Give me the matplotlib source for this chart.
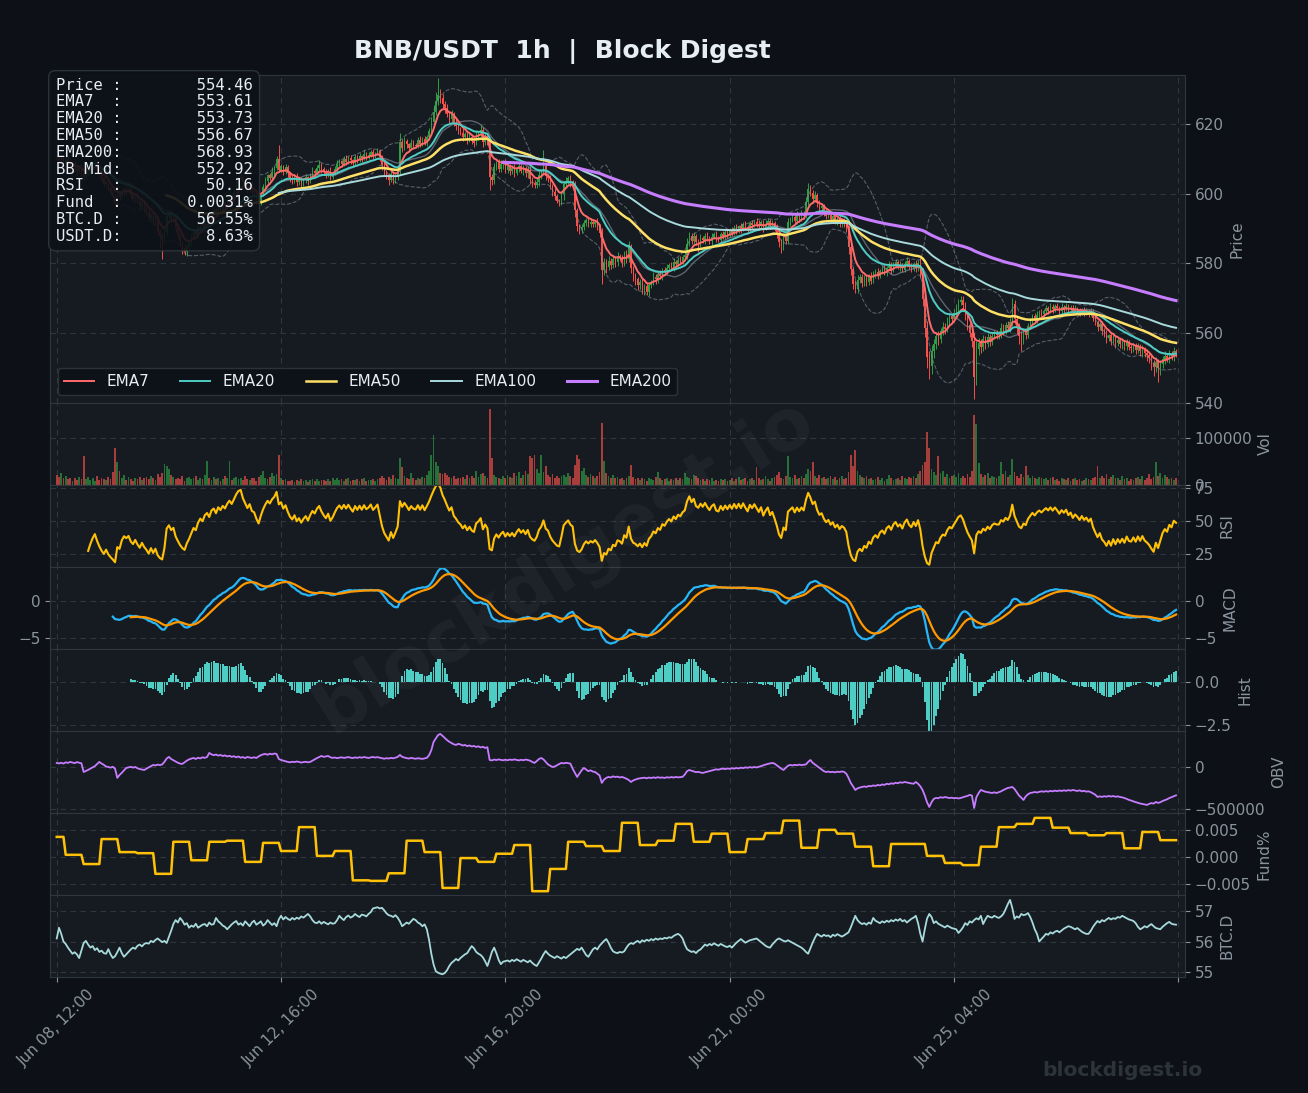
import numpy as np
import pandas as pd
import matplotlib
matplotlib.use('Agg')
import matplotlib.pyplot as plt

# ---- data (hourly, starting Jun 08 12:00) ----
start_time = '2025-06-08 12:00'
first_open = 610.6

close = [
    610.2, 609.4, 610.0, 608.8, 609.5, 608.2, 607.6, 608.4, 607.1, 606.5, 607.3, 606.0, 604.8, 605.4, 606.6, 607.5, 608.3, 608.9, 607.2, 605.6,
    604.1, 602.8, 603.4, 601.5, 600.2, 599.0, 597.4, 599.8, 599.1, 600.6, 601.4, 600.8, 601.2, 599.5, 598.6, 599.3, 597.8, 596.6, 597.4, 595.9,
    594.8, 593.1, 594.0, 591.9, 592.6, 589.4, 587.8, 586.9, 588.9, 593.6, 594.6, 592.9, 593.5, 590.2, 588.1, 586.0, 584.3, 583.2, 584.8, 585.9,
    587.4, 588.9, 588.1, 590.3, 591.6, 590.8, 592.7, 593.5, 592.4, 594.6, 595.3, 594.1, 596.2, 595.5, 597.0, 596.4, 598.1, 599.3, 598.6, 600.4,
    602.6, 604.3, 604.9, 603.2, 602.1, 601.0, 602.4, 600.8, 600.5, 598.9, 597.6, 599.8, 601.9, 603.7, 605.2, 604.6, 606.3, 607.4, 609.8, 606.9,
    607.8, 606.2, 607.5, 605.8, 604.4, 603.6, 604.9, 603.2, 604.1, 602.8, 603.9, 604.7, 603.5, 605.1, 606.4, 605.8, 607.3, 608.2, 607.0, 606.1,
    605.4, 606.6, 604.9, 605.8, 607.2, 608.5, 609.3, 608.6, 609.8, 609.1, 610.2, 609.5, 608.9, 610.4, 609.7, 610.8, 610.1, 611.3, 610.6, 611.0,
    611.8, 610.9, 611.5, 612.2, 610.4, 608.1, 606.3, 605.2, 604.0, 605.6, 603.8, 604.9, 606.2, 614.8, 613.2, 615.0, 614.1, 613.0, 614.6, 613.9,
    613.7, 615.3, 614.2, 615.8, 614.6, 616.1, 617.9, 620.6, 623.5, 626.6, 628.2, 627.4, 625.6, 624.4, 622.9, 621.5, 622.8, 620.3, 619.4, 618.2,
    617.5, 616.2, 617.0, 615.4, 616.3, 615.1, 614.6, 616.8, 617.3, 618.2, 614.9, 616.2, 615.0, 604.8, 603.9, 607.5, 608.9, 607.2, 608.4, 609.1,
    606.8, 607.9, 606.5, 607.4, 605.9, 607.1, 608.0, 606.6, 607.3, 605.8, 606.9, 604.2, 603.1, 602.5, 603.4, 605.2, 606.0, 607.8, 605.1, 604.4,
    602.1, 600.4, 599.2, 598.0, 597.6, 599.8, 602.9, 603.7, 604.4, 603.1, 602.5, 595.2, 590.8, 589.6, 590.3, 591.7, 592.5, 591.4, 592.0, 591.3,
    591.9, 590.6, 588.7, 578.2, 580.4, 579.1, 580.8, 579.6, 581.2, 580.3, 582.0, 581.5, 580.2, 582.6, 581.4, 584.9, 578.8, 576.2, 575.4, 573.8,
    574.6, 572.3, 573.5, 571.8, 573.9, 574.7, 576.2, 575.4, 577.0, 576.3, 578.1, 577.5, 578.8, 579.6, 578.9, 580.4, 579.7, 581.0, 580.6, 581.8,
    582.4, 585.6, 587.8, 586.5, 587.9, 586.2, 585.8, 587.3, 586.6, 588.0, 587.1, 586.4, 587.7, 588.3, 587.0, 586.8, 588.4, 587.6, 588.9, 588.2,
    589.4, 588.7, 590.1, 589.3, 590.6, 589.8, 591.2, 590.4, 589.7, 591.5, 590.9, 592.0, 591.3, 590.6, 591.8, 590.2, 591.4, 592.3, 590.8, 591.6,
    590.3, 588.6, 586.1, 584.9, 587.2, 586.4, 591.8, 592.6, 593.4, 592.1, 593.8, 592.9, 594.2, 593.5, 597.6, 601.4, 600.2, 598.5, 599.6, 597.3,
    595.8, 596.4, 594.7, 593.6, 594.3, 592.8, 593.5, 591.9, 592.6, 591.2, 592.0, 591.5, 590.2, 584.6, 578.3, 574.1, 572.6, 575.2, 576.0, 574.3,
    575.8, 574.6, 576.3, 575.1, 576.9, 577.6, 576.4, 577.9, 578.5, 577.2, 578.8, 579.4, 578.1, 579.6, 580.3, 578.9, 579.5, 578.2, 579.8, 580.6,
    579.1, 578.4, 579.7, 578.6, 580.1, 577.3, 569.8, 561.5, 553.2, 550.6, 554.8, 556.9, 559.2, 558.3, 560.6, 561.9, 561.2, 563.4, 564.8, 564.1,
    565.7, 567.2, 568.9, 569.6, 568.1, 565.3, 562.4, 560.1, 557.8, 547.5, 555.4, 557.3, 556.1, 558.2, 557.0, 558.9, 557.5, 559.3, 560.1, 559.6,
    559.6, 561.4, 560.8, 562.3, 561.5, 563.2, 568.4, 564.1, 561.8, 559.2, 558.4, 560.3, 559.6, 562.1, 563.5, 564.8, 563.9, 565.2, 566.0, 565.4,
    566.3, 567.1, 566.5, 567.6, 566.8, 567.9, 567.2, 566.4, 567.5, 566.9, 567.8, 566.6, 567.3, 566.1, 567.0, 566.5, 565.8, 566.7, 565.9, 566.4,
    565.6, 566.2, 564.4, 563.1, 561.8, 562.5, 560.7, 559.9, 558.6, 559.4, 557.8, 558.9, 557.2, 558.1, 556.9, 557.6, 556.3, 557.4, 556.0, 555.8,
    556.5, 555.2, 556.1, 554.8, 555.6, 554.3, 553.7, 552.9, 551.6, 550.4, 551.8, 549.9, 551.2, 552.6, 553.4, 552.7, 554.1, 553.5, 554.9, 554.46,
]

wick_up = [
    0.8, 0.6, 1.1, 0.5, 0.9, 1.2, 0.7, 0.4, 1.0, 0.6, 0.8, 1.3, 0.5, 0.7, 0.9, 0.4, 1.1, 0.6, 0.8, 0.5,
    0.7, 1.0, 0.4, 0.9, 0.6, 1.2, 0.8, 0.5, 1.0, 0.7, 0.4, 0.9, 1.1, 0.6, 0.8, 0.5, 1.0, 0.7, 0.4, 0.9,
    0.6, 1.1, 0.5, 0.8, 1.2, 0.7, 0.4, 1.0, 1.4, 0.9, 0.6, 0.8, 1.1, 0.5, 0.7, 1.0, 0.4, 0.9, 0.6, 0.8,
    1.0, 0.5, 0.8, 1.2, 0.6, 0.9, 0.4, 1.1, 0.7, 0.5, 1.0, 0.8, 0.6, 1.2, 0.4, 0.9, 0.7, 1.1, 0.5, 0.8,
    1.2, 0.7, 0.9, 0.5, 1.0, 0.6, 0.8, 1.3, 0.4, 0.7, 1.0, 0.6, 0.9, 1.1, 0.5, 0.8, 1.2, 0.6, 0.9, 4.2,
    0.8, 0.5, 1.0, 0.7, 0.4, 0.9, 0.6, 1.1, 0.5, 0.8, 0.7, 1.0, 0.4, 0.9, 1.2, 0.6, 0.8, 1.3, 0.5, 0.7,
    0.9, 0.6, 1.1, 0.5, 0.8, 1.0, 0.7, 0.4, 0.9, 1.2, 0.6, 0.8, 0.5, 1.0, 0.7, 0.9, 0.4, 1.1, 0.6, 0.8,
    0.7, 1.0, 0.5, 0.9, 0.6, 0.8, 1.1, 0.4, 0.7, 1.0, 0.5, 0.8, 0.6, 2.5, 0.9, 1.2, 0.7, 0.5, 1.0, 0.8,
    0.6, 0.9, 1.1, 0.5, 0.8, 0.7, 1.0, 1.5, 2.0, 2.6, 4.8, 1.8, 1.2, 0.9, 1.4, 0.8, 1.1, 0.7, 1.0, 0.6,
    0.9, 1.2, 0.6, 0.8, 1.0, 0.5, 0.9, 1.3, 0.7, 1.6, 0.8, 1.1, 0.6, 1.0, 0.7, 1.2, 0.5, 0.9, 1.1, 0.6,
    0.8, 1.0, 0.5, 0.9, 1.2, 0.6, 0.8, 0.4, 1.0, 0.7, 0.9, 1.1, 0.6, 0.8, 1.0, 1.4, 0.9, 4.7, 0.7, 0.5,
    0.9, 0.6, 1.1, 0.8, 0.5, 1.0, 0.7, 1.2, 0.6, 0.9, 0.8, 1.1, 0.7, 0.5, 1.0, 0.8, 0.6, 1.2, 0.9, 0.7,
    0.5, 1.0, 0.8, 1.5, 1.2, 0.9, 1.4, 0.7, 1.1, 0.8, 1.3, 0.6, 1.0, 0.9, 1.2, 1.5, 0.8, 0.6, 1.0, 0.7,
    0.9, 1.1, 0.6, 1.0, 0.8, 0.5, 1.2, 0.7, 0.9, 1.1, 0.6, 0.8, 1.0, 0.5, 0.9, 1.2, 0.7, 0.8, 1.0, 0.6,
    1.1, 1.8, 1.2, 0.8, 1.0, 0.6, 0.9, 1.2, 0.5, 0.8, 1.0, 0.7, 0.9, 0.6, 1.1, 0.8, 0.5, 1.0, 0.7, 0.9,
    0.6, 1.0, 0.8, 1.2, 0.5, 0.9, 0.7, 1.1, 0.6, 0.8, 1.0, 0.5, 0.9, 1.2, 0.7, 0.6, 1.0, 0.8, 0.5, 0.9,
    0.7, 1.1, 0.6, 0.9, 1.0, 0.5, 1.3, 0.8, 0.9, 0.6, 1.1, 0.7, 1.0, 0.8, 1.5, 1.6, 1.2, 0.9, 1.1, 0.7,
    1.0, 0.8, 0.6, 1.1, 0.9, 0.7, 1.0, 0.5, 0.8, 1.2, 0.6, 0.9, 0.7, 1.4, 1.0, 0.8, 1.2, 1.5, 0.9, 1.1,
    0.8, 1.0, 0.6, 1.2, 0.9, 0.7, 1.1, 0.5, 0.8, 1.0, 0.6, 1.3, 0.9, 0.7, 1.0, 0.8, 1.2, 0.6, 0.9, 1.1,
    0.7, 1.0, 0.8, 1.2, 0.9, 1.4, 1.5, 1.8, 2.0, 1.6, 1.9, 1.4, 1.2, 1.5, 1.0, 1.3, 0.9, 1.2, 1.0, 0.8,
    1.1, 1.3, 0.9, 1.2, 1.0, 0.8, 1.1, 0.9, 1.3, 2.2, 2.5, 1.4, 1.0, 1.2, 0.9, 1.1, 0.8, 1.0, 0.7, 0.9,
    1.0, 1.6, 1.2, 0.9, 1.1, 1.3, 1.6, 1.0, 0.8, 1.1, 1.4, 0.9, 1.2, 0.8, 1.0, 0.7, 0.9, 1.1, 0.6, 0.8,
    0.7, 0.9, 0.6, 1.0, 0.8, 0.5, 0.9, 0.7, 1.1, 0.6, 0.8, 0.5, 0.9, 0.7, 1.0, 0.6, 0.8, 0.5, 0.9, 0.7,
    0.6, 0.9, 0.7, 1.0, 0.8, 0.6, 1.1, 0.7, 0.9, 0.5, 0.8, 1.0, 0.6, 0.9, 0.7, 1.1, 0.5, 0.8, 0.6, 0.9,
    0.8, 0.6, 1.0, 0.7, 0.9, 0.5, 1.2, 0.8, 1.0, 0.7, 1.3, 0.9, 1.1, 0.8, 1.4, 0.7, 1.0, 0.8, 1.2, 0.6,
]

wick_dn = [
    0.6, 0.9, 0.5, 1.1, 0.7, 0.4, 1.0, 0.8, 0.6, 1.2, 0.5, 0.9, 1.3, 0.7, 0.4, 1.0, 0.8, 0.6, 1.1, 0.5,
    0.9, 0.6, 1.0, 0.7, 0.5, 1.1, 1.4, 0.8, 1.0, 0.6, 0.9, 1.2, 0.7, 1.0, 0.8, 1.3, 0.6, 1.1, 0.9, 1.2,
    1.0, 0.8, 1.3, 0.9, 1.1, 1.4, 3.4, 5.5, 1.0, 0.7, 1.2, 0.8, 1.0, 1.3, 0.9, 1.1, 1.5, 0.8, 1.0, 0.7,
    0.9, 0.6, 1.0, 0.8, 0.5, 1.1, 0.7, 0.9, 0.6, 1.0, 0.8, 0.5, 0.9, 0.7, 1.1, 0.6, 0.8, 1.0, 0.5, 0.7,
    0.8, 1.0, 0.6, 0.9, 1.2, 0.7, 0.5, 1.0, 0.8, 2.0, 1.5, 0.9, 0.6, 0.8, 1.0, 0.7, 0.5, 0.9, 0.6, 0.8,
    0.7, 1.0, 0.6, 0.9, 1.1, 0.8, 0.5, 1.0, 0.7, 0.9, 0.6, 0.8, 1.0, 0.5, 0.7, 0.9, 0.6, 0.8, 1.1, 0.7,
    0.8, 0.6, 1.0, 0.7, 0.5, 0.9, 0.7, 1.0, 0.6, 0.8, 0.5, 0.9, 1.1, 0.6, 0.8, 0.7, 1.0, 0.5, 0.9, 0.7,
    0.6, 0.9, 0.7, 0.5, 1.0, 1.2, 0.9, 1.1, 1.4, 0.8, 1.0, 0.7, 0.9, 0.8, 1.2, 0.6, 1.0, 0.8, 0.6, 0.9,
    0.7, 0.5, 0.9, 0.6, 0.8, 1.0, 0.7, 0.6, 0.8, 0.9, 1.1, 1.3, 1.0, 1.2, 0.9, 1.4, 1.1, 0.9, 1.2, 1.0,
    0.8, 1.1, 0.9, 1.3, 0.7, 1.0, 1.2, 0.8, 1.4, 1.0, 1.6, 0.9, 1.2, 3.8, 1.5, 1.0, 0.8, 1.1, 0.9, 1.2,
    1.0, 0.8, 1.2, 0.9, 1.1, 0.7, 1.0, 0.8, 1.2, 0.9, 1.3, 1.5, 1.2, 1.0, 0.8, 1.1, 0.9, 0.7, 1.2, 1.0,
    0.9, 1.2, 1.0, 0.8, 1.1, 0.9, 1.6, 0.8, 1.0, 1.2, 0.9, 1.8, 1.5, 1.2, 1.0, 0.8, 1.1, 0.9, 1.0, 0.8,
    1.0, 0.9, 1.2, 4.2, 1.5, 1.8, 1.0, 1.3, 0.9, 1.2, 1.0, 0.8, 1.1, 0.9, 1.2, 1.0, 1.5, 1.3, 1.6, 1.4,
    1.2, 1.0, 1.4, 0.9, 1.1, 0.8, 1.0, 1.2, 0.9, 0.7, 1.0, 0.8, 0.6, 0.9, 0.7, 1.0, 0.8, 0.6, 0.9, 0.7,
    0.8, 1.0, 0.7, 0.9, 1.1, 0.8, 2.6, 1.0, 0.7, 0.9, 0.6, 0.8, 1.0, 0.7, 0.9, 0.6, 0.8, 0.5, 0.7, 0.9,
    0.6, 0.8, 0.5, 0.9, 0.7, 1.0, 0.6, 0.8, 1.1, 0.7, 0.9, 0.6, 1.0, 0.8, 0.5, 1.2, 0.7, 0.9, 1.0, 0.6,
    0.9, 1.2, 1.4, 1.8, 1.0, 0.8, 0.7, 1.0, 0.6, 0.9, 0.8, 1.0, 0.7, 0.9, 0.6, 0.8, 1.0, 1.2, 0.8, 1.0,
    0.7, 0.9, 1.0, 0.8, 0.6, 1.1, 0.9, 0.7, 1.0, 0.8, 0.9, 1.0, 1.3, 1.8, 1.6, 1.4, 1.2, 1.0, 0.9, 1.1,
    0.8, 1.0, 0.7, 0.9, 0.6, 1.0, 0.8, 0.7, 1.0, 0.6, 0.9, 0.8, 1.1, 0.7, 0.9, 0.6, 1.0, 0.8, 0.7, 0.9,
    0.8, 1.0, 0.7, 1.1, 0.9, 1.5, 2.0, 2.6, 3.2, 3.6, 2.2, 1.8, 1.5, 1.6, 1.2, 1.0, 1.3, 0.9, 1.1, 0.8,
    1.0, 0.8, 1.1, 0.9, 1.2, 1.4, 1.6, 1.3, 1.8, 6.3, 2.4, 1.6, 1.8, 1.3, 1.5, 1.0, 1.2, 0.9, 1.1, 1.3,
    1.2, 1.0, 1.4, 1.1, 0.9, 1.2, 1.0, 1.5, 2.0, 2.2, 3.4, 1.6, 1.2, 1.0, 0.9, 1.1, 0.8, 1.0, 0.7, 0.9,
    0.8, 0.6, 0.9, 0.7, 1.0, 0.8, 0.6, 0.9, 0.7, 1.0, 0.5, 0.8, 0.7, 0.9, 0.6, 1.0, 0.8, 0.6, 0.9, 0.7,
    0.9, 0.7, 1.0, 0.8, 1.2, 0.9, 1.1, 1.0, 1.3, 0.8, 1.2, 1.0, 1.4, 0.9, 1.1, 1.3, 1.0, 1.2, 0.9, 1.4,
    1.1, 1.3, 0.9, 1.2, 1.5, 1.0, 1.8, 1.4, 2.0, 2.6, 1.6, 3.9, 1.8, 1.2, 1.5, 1.0, 1.3, 1.1, 1.4, 1.2,
]

# volume in thousands
volume_k = [
    22, 18, 25, 14, 20, 12, 16, 9, 15, 11, 18, 13, 61, 12, 17, 10, 14, 8, 19, 11,
    16, 13, 10, 18, 12, 28, 80, 49, 30, 14, 21, 11, 17, 13, 9, 15, 12, 18, 10, 14,
    17, 12, 20, 15, 11, 24, 18, 26, 44, 41, 35, 22, 18, 13, 16, 12, 20, 9, 14, 17,
    12, 15, 19, 11, 16, 13, 21, 51, 14, 10, 18, 12, 16, 9, 13, 20, 15, 52, 11, 14,
    17, 12, 15, 10, 19, 13, 11, 16, 14, 9, 18, 22, 29, 15, 12, 17, 26, 20, 24, 65,
    14, 10, 12, 8, 9, 11, 7, 10, 8, 12, 9, 11, 7, 10, 13, 9, 12, 8, 10, 11,
    9, 12, 8, 14, 11, 16, 10, 13, 9, 12, 15, 8, 11, 10, 13, 9, 12, 14, 8, 11,
    10, 13, 9, 12, 16, 20, 14, 11, 18, 13, 22, 15, 12, 57, 38, 20, 16, 12, 25, 14,
    11, 15, 12, 18, 14, 22, 30, 64, 106, 49, 40, 25, 24, 26, 22, 18, 15, 20, 12, 16,
    14, 18, 12, 22, 16, 20, 14, 30, 18, 24, 26, 20, 16, 163, 57, 22, 18, 15, 12, 20,
    16, 22, 18, 14, 25, 19, 28, 16, 21, 30, 24, 62, 58, 64, 34, 26, 63, 28, 40, 22,
    18, 24, 16, 20, 14, 19, 22, 17, 25, 20, 16, 42, 64, 55, 30, 36, 22, 18, 24, 20,
    16, 20, 28, 133, 52, 26, 20, 16, 22, 14, 18, 12, 16, 10, 14, 20, 42, 18, 12, 15,
    10, 14, 12, 9, 16, 13, 11, 18, 28, 14, 10, 12, 15, 9, 13, 11, 16, 10, 14, 12,
    26, 18, 14, 12, 22, 20, 15, 11, 13, 9, 12, 10, 14, 8, 11, 9, 13, 10, 12, 8,
    11, 14, 9, 12, 18, 10, 13, 15, 9, 12, 16, 11, 38, 14, 10, 13, 20, 12, 9, 15,
    17, 22, 28, 14, 12, 20, 61, 18, 15, 22, 12, 16, 19, 14, 24, 35, 30, 49, 20, 16,
    22, 14, 18, 12, 16, 20, 13, 17, 11, 15, 19, 12, 16, 28, 64, 40, 75, 30, 22, 18,
    14, 20, 12, 16, 10, 13, 18, 11, 15, 9, 12, 22, 14, 10, 13, 16, 11, 20, 14, 12,
    18, 14, 20, 16, 24, 30, 43, 50, 113, 79, 35, 28, 22, 61, 26, 30, 18, 24, 16, 20,
    22, 18, 26, 14, 20, 16, 24, 18, 30, 149, 130, 46, 24, 18, 22, 26, 14, 20, 18, 16,
    20, 50, 24, 30, 18, 22, 56, 28, 20, 16, 24, 18, 40, 22, 14, 20, 16, 12, 18, 14,
    12, 16, 10, 14, 18, 11, 13, 9, 15, 12, 10, 14, 8, 12, 16, 10, 13, 9, 11, 14,
    12, 10, 15, 18, 40, 14, 20, 16, 24, 12, 18, 22, 14, 16, 10, 20, 12, 15, 9, 13,
    11, 14, 18, 12, 20, 10, 16, 24, 13, 18, 49, 20, 26, 14, 22, 18, 12, 16, 10, 14,
]

# on-balance volume in thousands, as plotted
obv_k = [
    48, 42, 50, 40, 55, 48, 60, 52, 45, 58, 50, 44, -60, -48, -35, -20, -5, 10, 35, 60,
    40, 25, 5, 0, -8, 2, -20, -130, -95, -70, -40, -12, -5, 2, -8, 0, -15, -25, -30, -36,
    -20, -5, 10, 24, 18, 28, 22, 30, 60, 100, 120, 95, 80, 65, 50, 40, 36, 55, 75, 90,
    100, 107, 95, 110, 102, 115, 108, 118, 167, 150, 140, 148, 135, 143, 130, 138, 125, 133, 120, 128,
    115, 125, 110, 118, 105, 120, 112, 108, 115, 107, 125, 140, 150, 155, 145, 158, 150, 160, 155, 95,
    83, 75, 68, 60, 55, 62, 58, 65, 60, 52, 58, 62, 55, 60, 75, 90, 105, 118, 131, 120,
    125, 131, 115, 108, 112, 105, 110, 115, 108, 112, 118, 110, 106, 114, 108, 116, 110, 118, 112, 107,
    114, 119, 112, 117, 110, 104, 98, 105, 100, 108, 103, 110, 120, 143, 120, 112, 105, 100, 108, 102,
    98, 104, 100, 96, 102, 108, 140, 200, 298, 340, 380, 393, 370, 345, 320, 300, 285, 270, 262, 275,
    268, 255, 262, 248, 256, 244, 250, 238, 246, 232, 240, 226, 235, 83, 78, 88, 82, 90, 84, 80,
    86, 80, 88, 83, 90, 84, 78, 85, 80, 88, 83, 75, 60, 48, 70, 95, 107, 90, 60, 30,
    15, 0, 5, 20, 35, 48, 42, 50, 45, 40, -20, -70, -119, -80, -40, -12, -30, -50, -40, -55,
    -60, -80, -100, -190, -150, -130, -119, -125, -112, -120, -115, -125, -119, -128, -140, -155, -179, -160, -150, -140,
    -135, -131, -128, -135, -126, -132, -124, -130, -122, -128, -125, -131, -122, -127, -120, -126, -119, -124, -121, -118,
    -90, -50, -36, -45, -55, -62, -58, -66, -71, -64, -58, -50, -42, -35, -28, -32, -24, -20, -26, -18,
    -22, -15, -20, -12, -18, -8, -14, -5, -10, -2, -8, 0, -6, 2, 10, 20, 28, 36, 42, 48,
    40, 20, 0, -20, -36, -10, 15, 24, 18, 26, 20, 28, 22, 26, 30, 60, 83, 50, 30, 10,
    -10, -30, -50, -60, -55, -62, -58, -64, -56, -60, -54, -58, -80, -130, -190, -230, -274, -255, -245, -238,
    -232, -238, -226, -230, -220, -226, -214, -220, -208, -214, -200, -206, -195, -200, -188, -194, -182, -188, -179, -184,
    -190, -196, -200, -179, -200, -230, -274, -340, -420, -476, -420, -380, -369, -372, -360, -366, -358, -364, -370, -366,
    -372, -368, -375, -369, -360, -352, -345, -333, -340, -488, -360, -310, -274, -285, -295, -300, -305, -310, -302, -310,
    -300, -290, -275, -262, -250, -245, -238, -262, -300, -340, -365, -393, -350, -325, -310, -305, -298, -304, -296, -290,
    -295, -288, -294, -285, -290, -282, -288, -280, -286, -278, -284, -276, -282, -274, -280, -286, -278, -290, -284, -294,
    -290, -300, -315, -330, -357, -350, -356, -348, -354, -345, -352, -346, -355, -350, -357, -362, -370, -380, -392, -400,
    -410, -418, -426, -435, -440, -446, -452, -440, -430, -436, -417, -428, -420, -405, -395, -385, -370, -360, -348, -338,
]

btc_dom = [
    56.10, 56.45, 56.25, 56.00, 55.92, 55.80, 55.70, 55.60, 55.65, 55.58, 55.46, 55.70, 55.95, 56.02, 55.90, 55.80, 55.85, 55.72, 55.78, 55.66,
    55.70, 55.62, 55.60, 55.75, 55.58, 55.46, 55.52, 55.65, 55.80, 55.62, 55.50, 55.58, 55.66, 55.74, 55.80, 55.76, 55.86, 55.90, 55.84, 55.92,
    55.95, 55.93, 56.02, 55.98, 56.05, 56.10, 56.04, 55.98, 56.02, 55.95, 56.15, 56.35, 56.57, 56.70, 56.62, 56.77, 56.68, 56.55, 56.60, 56.45,
    56.52, 56.48, 56.58, 56.45, 56.50, 56.55, 56.57, 56.50, 56.62, 56.55, 56.57, 56.77, 56.66, 56.60, 56.52, 56.48, 56.40, 56.48, 56.56, 56.62,
    56.67, 56.55, 56.60, 56.52, 56.66, 56.58, 56.50, 56.62, 56.68, 56.55, 56.60, 56.66, 56.52, 56.58, 56.70, 56.62, 56.54, 56.60, 56.50, 56.72,
    56.84, 56.72, 56.80, 56.74, 56.70, 56.77, 56.72, 56.78, 56.74, 56.82, 56.78, 56.84, 56.90, 56.82, 56.70, 56.62, 56.60, 56.66, 56.58, 56.64,
    56.60, 56.56, 56.62, 56.58, 56.60, 56.70, 56.84, 56.76, 56.70, 56.80, 56.85, 56.78, 56.82, 56.90, 56.84, 56.80, 56.88, 56.86, 56.82, 56.90,
    56.96, 57.08, 57.10, 57.12, 57.08, 57.10, 57.02, 56.92, 56.86, 56.84, 56.80, 56.86, 56.78, 56.66, 56.50, 56.56, 56.62, 56.58, 56.66, 56.74,
    56.70, 56.62, 56.58, 56.50, 56.56, 56.40, 56.05, 55.60, 55.25, 55.03, 54.98, 54.95, 54.93, 54.97, 55.06, 55.20, 55.30, 55.36, 55.43, 55.38,
    55.46, 55.52, 55.58, 55.62, 55.74, 55.85, 55.78, 55.66, 55.60, 55.56, 55.48, 55.35, 55.20, 55.42, 55.66, 55.80, 55.62, 55.40, 55.26, 55.34,
    55.36, 55.38, 55.34, 55.40, 55.36, 55.42, 55.38, 55.34, 55.40, 55.36, 55.32, 55.38, 55.30, 55.24, 55.20, 55.32, 55.44, 55.58, 55.69, 55.60,
    55.54, 55.50, 55.46, 55.52, 55.48, 55.44, 55.50, 55.46, 55.52, 55.58, 55.64, 55.70, 55.76, 55.72, 55.80, 55.68, 55.56, 55.50, 55.62, 55.74,
    55.80, 55.74, 55.86, 55.94, 56.02, 56.08, 55.96, 55.80, 55.68, 55.64, 55.62, 55.66, 55.64, 55.68, 55.80, 55.90, 55.95, 55.92, 55.98, 56.02,
    55.96, 56.04, 56.00, 56.06, 56.02, 56.08, 56.04, 56.10, 56.06, 56.10, 56.08, 56.12, 56.10, 56.14, 56.12, 56.18, 56.22, 56.25, 56.20, 56.10,
    55.90, 55.75, 55.70, 55.66, 55.68, 55.62, 55.70, 55.74, 55.82, 55.90, 55.86, 55.92, 55.88, 55.94, 55.90, 55.86, 55.92, 55.88, 55.84, 55.82,
    55.86, 55.80, 55.88, 55.96, 56.02, 56.08, 56.02, 55.96, 56.00, 56.04, 56.06, 56.08, 56.10, 56.04, 55.98, 55.92, 55.86, 55.82, 55.80, 55.90,
    55.98, 56.06, 56.10, 56.06, 56.02, 56.00, 56.04, 56.00, 55.96, 55.92, 55.88, 55.84, 55.80, 55.74, 55.66, 55.60, 55.78, 55.96, 56.12, 56.25,
    56.20, 56.16, 56.22, 56.18, 56.20, 56.14, 56.22, 56.18, 56.24, 56.20, 56.16, 56.20, 56.25, 56.30, 56.46, 56.65, 56.84, 56.70, 56.62, 56.57,
    56.60, 56.55, 56.62, 56.58, 56.77, 56.68, 56.64, 56.60, 56.66, 56.62, 56.68, 56.64, 56.70, 56.66, 56.72, 56.68, 56.74, 56.66, 56.70, 56.62,
    56.68, 56.74, 56.78, 56.84, 56.60, 56.25, 56.00, 56.40, 56.75, 56.90, 56.80, 56.60, 56.66, 56.58, 56.54, 56.50, 56.46, 56.52, 56.48, 56.44,
    56.42, 56.40, 56.28, 56.36, 56.46, 56.60, 56.54, 56.66, 56.62, 56.70, 56.76, 56.72, 56.84, 56.57, 56.72, 56.84, 56.80, 56.78, 56.84, 56.80,
    56.77, 56.82, 56.90, 57.05, 57.22, 57.36, 57.10, 56.74, 56.82, 56.78, 56.90, 56.86, 56.88, 56.93, 56.80, 56.62, 56.40, 56.25, 56.00, 56.08,
    56.16, 56.25, 56.22, 56.30, 56.26, 56.32, 56.35, 56.30, 56.36, 56.42, 56.46, 56.50, 56.48, 56.44, 56.40, 56.44, 56.38, 56.32, 56.28, 56.25,
    56.25, 56.35, 56.48, 56.58, 56.67, 56.62, 56.70, 56.66, 56.72, 56.77, 56.72, 56.76, 56.74, 56.80, 56.78, 56.84, 56.80, 56.76, 56.72, 56.70,
    56.67, 56.60, 56.48, 56.40, 56.44, 56.50, 56.46, 56.52, 56.57, 56.50, 56.44, 56.42, 56.40, 56.48, 56.54, 56.60, 56.64, 56.58, 56.56, 56.55,
]

# funding rate (%) per 8h window; first window is the partial one before 16:00
funding = [
    0.0037, 0.0004, -0.0013, 0.0033, 0.0009, 0.0007, -0.0031, 0.0028, -0.0006, 0.0028,
    0.0030, -0.0009, 0.0026, 0.0011, 0.0055, 0.0002, 0.0011, -0.0043, -0.0044, -0.0030,
    0.0030, 0.0009, -0.0057, -0.0002, -0.0009, 0.0006, 0.0022, -0.0063, -0.0022, 0.0028,
    0.0020, 0.0011, 0.0063, 0.0022, 0.0030, 0.0061, 0.0028, 0.0043, 0.0009, 0.0033,
    0.0044, 0.0067, 0.0017, 0.0050, 0.0043, 0.0019, -0.0017, 0.0024, 0.0024, 0.0002,
    -0.0011, -0.0015, 0.0019, 0.0055, 0.0061, 0.0072, 0.0054, 0.0044, 0.0040, 0.0044,
    0.0016, 0.0046, 0.0031,
]

info_labels = ['Price :', 'EMA7  :', 'EMA20 :', 'EMA50 :', 'EMA200:',
               'BB Mid:', 'RSI   :', 'Fund  :', 'BTC.D :', 'USDT.D:']
info_values = ['554.46', '553.61', '553.73', '556.67', '568.93',
               '552.92', '50.16', '0.0031%', '56.55%', '8.63%']

ema_spans = [7, 20, 50, 100, 200]

vol_ticks = [0, 100000]
rsi_ticks = [25, 50, 75]
macd_ticks = [-5, 0]
hist_ticks = [-2.5, 0.0]
obv_ticks = [-500000, 0]
fund_ticks = [-0.005, 0.0, 0.005]
btc_ticks = [55, 56, 57]

# ---- style ----
BG = '#0d1117'
PANEL = '#161b22'
EDGE = '#30363d'
MUTED = '#8b949e'
TEXT = '#e6edf3'
UP = '#2ea043'
DOWN = '#f85149'
ema_colors = ['#ff6b6b', '#4ecdc4', '#ffe066', '#a8dadc', '#c77dff']
ema_widths = [1.4, 1.4, 1.8, 1.4, 2.2]

# ---- indicators ----
c = pd.Series(close)
n = len(c)
o = np.r_[first_open, c.values[:-1]]
hi = np.maximum(o, c.values) + np.array(wick_up)
lo = np.minimum(o, c.values) - np.array(wick_dn)
vol = np.array(volume_k) * 1000.0
obv = np.array(obv_k) * 1000.0
up = c.values >= o
x = np.arange(n)

emas = [c.ewm(span=s, adjust=False, min_periods=s).mean() for s in ema_spans]
bb_mid = c.rolling(20).mean()
bb_sd = c.rolling(20).std()

delta = c.diff()
gain = delta.clip(lower=0).ewm(alpha=1 / 14, adjust=False, min_periods=14).mean()
loss = (-delta.clip(upper=0)).ewm(alpha=1 / 14, adjust=False, min_periods=14).mean()
rsi = 100 - 100 / (1 + gain / loss)

ema12 = c.ewm(span=12, adjust=False, min_periods=12).mean()
ema26 = c.ewm(span=26, adjust=False, min_periods=26).mean()
macd = ema12 - ema26
signal = macd.ewm(span=9, adjust=False, min_periods=9).mean()
hist = macd - signal

fund = np.array(funding)[(x + 4) // 8]
dates = pd.date_range(start_time, periods=n, freq='h')

# ---- figure ----
fig = plt.figure(figsize=(13.08, 10.93), dpi=100, facecolor=BG)
gs = fig.add_gridspec(8, 1, height_ratios=[4, 1, 1, 1, 1, 1, 1, 1], hspace=0,
                      left=50 / 1308, right=1185 / 1308,
                      top=1 - 75 / 1093, bottom=1 - 977 / 1093)
axes = [fig.add_subplot(gs[0])]
for k in range(1, 8):
    axes.append(fig.add_subplot(gs[k], sharex=axes[0]))
ax_p, ax_v, ax_r, ax_m, ax_h, ax_o, ax_f, ax_b = axes

labels = ['Price', 'Vol', 'RSI', 'MACD', 'Hist', 'OBV', 'Fund%', 'BTC.D']
for ax, lab in zip(axes, labels):
    ax.set_facecolor(PANEL)
    for s in ax.spines.values():
        s.set_color(EDGE)
    ax.yaxis.tick_right()
    ax.yaxis.set_label_position('right')
    ax.set_ylabel(lab, color=MUTED, fontsize=11)
    ax.tick_params(colors=MUTED, labelsize=11)
    ax.grid(True, color=EDGE, ls=(0, (5, 4)), lw=0.8)
    ax.set_axisbelow(True)
    if ax is not ax_b:
        ax.tick_params(axis='x', bottom=False, labelbottom=False)

# price: candles
ax_p.vlines(x, lo, hi, colors=np.where(up, UP, DOWN), lw=0.7, zorder=2)
body_lo = np.minimum(o, c.values)
body_h = np.maximum(np.abs(c.values - o), 0.08)
ax_p.bar(x, body_h, bottom=body_lo, width=0.6, color=np.where(up, UP, DOWN), zorder=2)
ax_p.plot(x, bb_mid + 2 * bb_sd, color=MUTED, lw=0.8, ls='--', alpha=0.55, zorder=3)
ax_p.plot(x, bb_mid - 2 * bb_sd, color=MUTED, lw=0.8, ls='--', alpha=0.55, zorder=3)
ax_p.plot(x, bb_mid, color=MUTED, lw=1.0, alpha=0.6, zorder=3)
for s, e, col, lw in zip(ema_spans, emas, ema_colors, ema_widths):
    ax_p.plot(x, e, color=col, lw=lw, label=f'EMA{s}', zorder=4)
ax_p.set_ylim(540, 634)
leg = ax_p.legend(loc='lower left', ncol=5, fontsize=11, facecolor=BG,
                  edgecolor=EDGE, framealpha=0.9)
for t in leg.get_texts():
    t.set_color(TEXT)

info = '\n'.join(f'{a}{b:>14}' for a, b in zip(info_labels, info_values))
ax_p.text(0.005, 0.992, info, transform=ax_p.transAxes, va='top', ha='left',
          family='DejaVu Sans Mono', fontsize=11.2, color=TEXT, linespacing=1.15,
          zorder=10,
          bbox=dict(boxstyle='round,pad=0.45', fc=BG, ec=EDGE, alpha=0.9))

# volume
ax_v.bar(x, vol, width=0.8, color=np.where(up, UP, DOWN), alpha=0.65)
ax_v.set_ylim(0, 175000)
ax_v.set_yticks(vol_ticks)

# RSI
ax_r.plot(x, rsi, color='#ffc107', lw=1.5)
ax_r.set_ylim(15, 77)
ax_r.set_yticks(rsi_ticks)

# MACD
ax_m.plot(x, macd, color='#29b6f6', lw=1.6)
ax_m.plot(x, signal, color='#ff9800', lw=1.6)
ax_m.set_ylim(-6.4, 4.5)
ax_m.set_yticks(macd_ticks)
ax_m.tick_params(axis='y', left=True, labelleft=True)

# histogram
ax_h.bar(x, hist, width=0.8, color='#4ecdc4')
ax_h.set_ylim(-2.85, 1.92)
ax_h.set_yticks(hist_ticks)

# OBV
ax_o.plot(x, obv, color='#c77dff', lw=1.3)
ax_o.set_ylim(-548000, 428000)
ax_o.set_yticks(obv_ticks)

# funding
ax_f.plot(x, fund, color='#ffc107', lw=1.8)
ax_f.set_ylim(-0.0070, 0.0081)
ax_f.set_yticks(fund_ticks)

# BTC dominance
ax_b.plot(x, btc_dom, color='#a8dadc', lw=1.3)
ax_b.set_ylim(54.84, 57.52)
ax_b.set_yticks(btc_ticks)

ticks = list(range(0, n + 1, 100))
ax_b.set_xticks(ticks)
ax_b.set_xticklabels([dates[t].strftime('%b %d, %H:%M') if t < n else '' for t in ticks],
                     rotation=45, ha='center', fontsize=11, color=MUTED)
ax_b.set_xlim(-3, n + 3)

fig.text(562 / 1308, 1 - 51 / 1093, 'BNB/USDT  1h  |  Block Digest', ha='center', va='center',
         fontsize=18, fontweight='bold', color=TEXT)
fig.text(0.432, 0.483, 'blockdigest.io', ha='center', va='center', fontsize=52,
         fontweight='bold', color='white', alpha=0.04, rotation=32)
fig.text(1203 / 1308, 1 - 1070 / 1093, 'blockdigest.io', ha='right', va='center',
         fontsize=14.5, fontweight='bold', color='#2d333b')

fig.savefig('out.png', dpi=100, facecolor=BG)
